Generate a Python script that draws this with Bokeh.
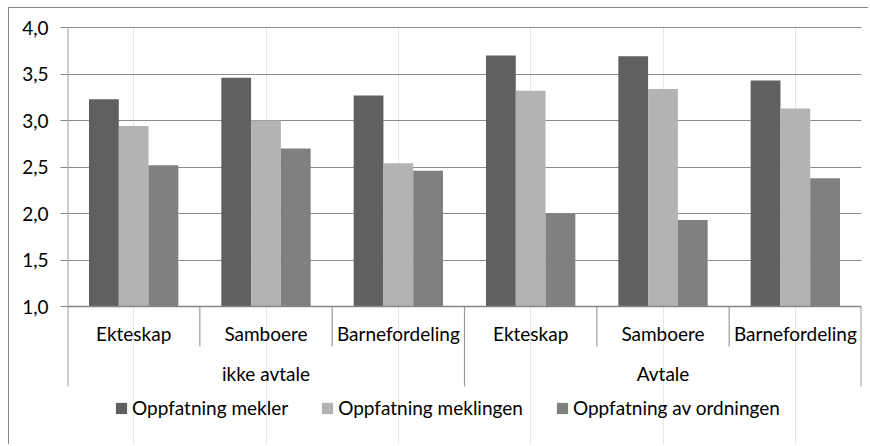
from bokeh.plotting import figure
from bokeh.models import (FactorRange, Range1d, FixedTicker, CustomJSTickFormatter,
                          ColumnDataSource, Legend, LegendItem, Span)
from bokeh.transform import dodge
from bokeh.core.properties import value
from bokeh.embed import file_html
from bokeh.resources import INLINE

# ---- data ----
groups = ["ikke avtale", "Avtale"]
subcats = ["Ekteskap", "Samboere", "Barnefordeling"]
series_names = ["Oppfatning mekler", "Oppfatning meklingen", "Oppfatning av ordningen"]
mekler = [3.23, 3.46, 3.27, 3.70, 3.69, 3.43]
meklingen = [2.94, 3.00, 2.54, 3.32, 3.34, 3.13]
ordningen = [2.52, 2.70, 2.46, 2.00, 1.93, 2.38]
y_ticks = [1.0, 1.5, 2.0, 2.5, 3.0, 3.5, 4.0]
baseline = 1.0

# ---- style ----
FONT = "Lato"
FSIZE = "19px"
colors = ["#606060", "#b3b3b3", "#808080"]
grid_col = "#8c8c8c"
axis_col = "#868686"
sep_col = "#9c9c9c"
y_end = 4.011
y_start = y_end - 419 / 93.0
long_end = 0.14
short_end = 0.57
sub_label_y = 0.71
group_label_y = 0.275
bar_w = 0.225

cats = [(g, c) for g in groups for c in subcats]
src = ColumnDataSource(dict(cats=cats, mekler=mekler, meklingen=meklingen, ordningen=ordningen))

p = figure(width=860, height=437, toolbar_location=None, output_backend="svg",
           x_range=FactorRange(*cats, factor_padding=0, group_padding=0, range_padding=0),
           y_range=Range1d(y_start, y_end), x_axis_location=None,
           min_border_left=58, min_border_right=8, min_border_top=18, min_border_bottom=0)
p.title.visible = False
p.outline_line_color = None
p.background_fill_color = "white"
p.border_fill_color = "white"
p.styles = {"margin-left": "8px", "margin-top": "7px",
            "border-top": "1px solid #868686", "border-left": "1px solid #868686"}

# y axis
yax = p.yaxis[0]
yax.ticker = FixedTicker(ticks=y_ticks)
yax.formatter = CustomJSTickFormatter(code="return tick.toFixed(1).replace('.', ',')")
yax.axis_line_color = None
yax.major_tick_line_color = axis_col
yax.major_tick_out = 7
yax.major_tick_in = 0
yax.minor_tick_line_color = None
yax.major_label_standoff = 12
yax.major_label_text_font = FONT
yax.major_label_text_font_size = FSIZE
yax.major_label_text_color = "black"

p.ygrid.ticker = FixedTicker(ticks=y_ticks[1:])
p.ygrid.grid_line_color = grid_col
p.ygrid.grid_line_width = 1

# bars
offsets = [-bar_w, 0.0, bar_w]
fields = ["mekler", "meklingen", "ordningen"]
renderers = []
for f, off, col in zip(fields, offsets, colors):
    r = p.vbar(x=dodge("cats", off, range=p.x_range), top=f, bottom=baseline, width=bar_w,
               source=src, fill_color=col, line_color=None)
    renderers.append(r)

# category axis line at baseline
p.add_layout(Span(location=baseline, dimension="width", line_color=axis_col, line_width=1.5))

# vertical value-axis line + separators between categories
sep_x, sep_y0, sep_y1, sep_w = [], [], [], []
for gi, g in enumerate(groups):
    for ci, c in enumerate(subcats):
        sep_x.append((g, c, -0.5))
        first = gi == 0 and ci == 0
        sep_y0.append(y_ticks[-1] if first else baseline)
        sep_y1.append(long_end if ci == 0 else short_end)
        sep_w.append(2.0 if first else 1.2)
sep_x.append((groups[-1], subcats[-1], 0.5))
sep_y0.append(baseline)
sep_y1.append(long_end)
sep_w.append(2.0)
sep_src = ColumnDataSource(dict(x=sep_x, y0=sep_y0, y1=sep_y1, w=sep_w))
p.segment(x0="x", x1="x", y0="y0", y1="y1", source=sep_src, line_color=sep_col, line_width="w")

# category labels
lab_src = ColumnDataSource(dict(x=cats, y=[sub_label_y] * len(cats), t=[c for _, c in cats]))
p.text(x="x", y="y", text="t", source=lab_src, text_font=value(FONT), text_font_size=FSIZE,
       text_align="center", text_baseline="alphabetic", text_color="black")
grp_src = ColumnDataSource(dict(x=groups, y=[group_label_y] * len(groups), t=groups))
p.text(x="x", y="y", text="t", source=grp_src, text_font=value(FONT), text_font_size=FSIZE,
       text_align="center", text_baseline="alphabetic", text_color="black")

# legend (inside the frame, below the category labels)
legend = Legend(items=[LegendItem(label=n, renderers=[r]) for n, r in zip(series_names, renderers)],
                orientation="horizontal", location=(47, 26), padding=0, margin=0, spacing=32,
                glyph_width=14, glyph_height=14, label_standoff=4,
                label_text_font=FONT, label_text_font_size=FSIZE, label_text_color="black",
                border_line_color=None, background_fill_alpha=0)
p.add_layout(legend, "center")

open("out.html", "w").write(file_html(p, INLINE))
